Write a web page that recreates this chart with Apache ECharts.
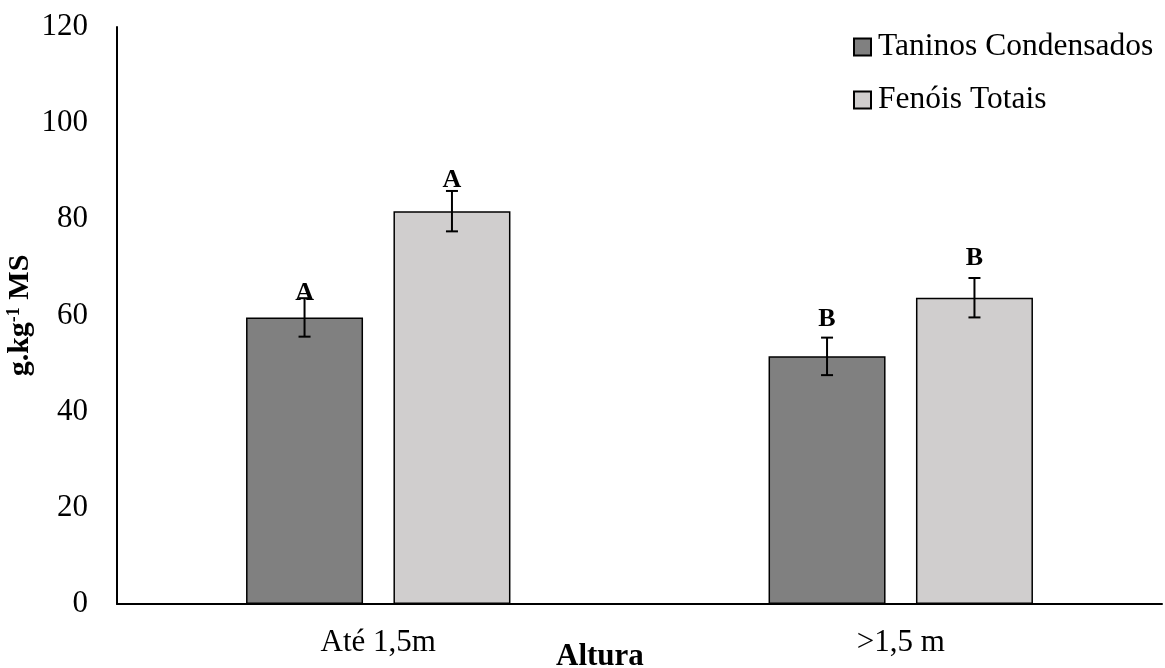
<!DOCTYPE html>
<html>
<head>
<meta charset="utf-8">
<script src="https://cdn.jsdelivr.net/npm/echarts@6/dist/echarts.min.js"></script>
<style>
html,body{margin:0;padding:0;background:#fff;}
#chart{width:1165px;height:668px;}
</style>
</head>
<body>
<div id="chart"></div>
<script>
var categories = ['Até 1,5m', '>1,5 m'];
var seriesNames = ['Taninos Condensados', 'Fenóis Totais'];
var taninos = [59.6, 51.5];
var fenois = [81.7, 63.7];
var taninosErr = [4.0, 3.9];
var fenoisErr = [4.2, 4.1];
var taninosLetters = ['A', 'B'];
var fenoisLetters = ['A', 'B'];
var taninosLetterY = [64.6, 59.2];
var fenoisLetterY = [88.1, 71.9];
var yTicks = [0, 20, 40, 60, 80, 100, 120];

var FONT = "'Liberation Serif', 'Times New Roman', serif";
var BAR_W = 117;
var BAR_GAP = 0.26;

function errSeries(name, values, errs, letters, letterY, idx) {
  var data = values.map(function (v, i) { return [i, v, errs[i], letters[i], letterY[i]]; });
  return {
    type: 'custom',
    name: name + ' err',
    z: 10,
    silent: true,
    data: data,
    renderItem: function (params, api) {
      var cat = api.value(0), v = api.value(1), e = api.value(2);
      var center = api.coord([cat, v]);
      var step = BAR_W * (1 + BAR_GAP) / 2;
      var x = center[0] + (idx === 0 ? -step : step);
      var top = api.coord([cat, v + e])[1];
      var bot = api.coord([cat, v - e])[1];
      var ly = api.coord([cat, api.value(4)])[1];
      var cap = 6;
      var st = { stroke: '#000', lineWidth: 2 };
      return {
        type: 'group',
        children: [
          { type: 'line', shape: { x1: x, y1: top, x2: x, y2: bot }, style: st },
          { type: 'line', shape: { x1: x - cap, y1: top, x2: x + cap, y2: top }, style: st },
          { type: 'line', shape: { x1: x - cap, y1: bot, x2: x + cap, y2: bot }, style: st },
          { type: 'text', x: x, y: ly, style: { text: letters[params.dataIndex], fill: '#000',
            font: 'bold 26px ' + FONT, align: 'center', verticalAlign: 'middle' } }
        ]
      };
    }
  };
}

var chart = echarts.init(document.getElementById('chart'), null, { renderer: 'canvas' });
chart.setOption({
  backgroundColor: '#fff',
  animation: false,
  textStyle: { fontFamily: FONT },
  grid: { left: 117, right: 3, top: 27, bottom: 64, containLabel: false, outerBoundsMode: 'none' },
  legend: {
    orient: 'vertical',
    left: 853,
    top: 31,
    padding: 0,
    itemWidth: 17,
    itemHeight: 17,
    itemGap: 21,
    data: seriesNames,
    textStyle: { fontFamily: FONT, fontSize: 31.5, color: '#000', lineHeight: 32, padding: [0, 0, 0, 2] },
    icon: 'rect'
  },
  xAxis: {
    type: 'category',
    data: categories,
    axisLine: { lineStyle: { color: '#000', width: 2 } },
    axisTick: { show: false },
    axisLabel: { color: '#000', fontSize: 31, fontFamily: FONT, margin: 23 },
    splitLine: { show: false }
  },
  yAxis: {
    type: 'value',
    min: 0, max: 120, interval: 20,
    name: 'g.kg{sup|-1} MS',
    nameLocation: 'middle',
    nameGap: 82,
    nameMoveOverlap: false,
    nameTextStyle: {
      color: '#000', fontFamily: FONT, fontSize: 30, fontWeight: 'bold',
      rich: { sup: { fontSize: 18, fontWeight: 'bold', fontFamily: FONT, verticalAlign: 'top', padding: [0, 0, 12, 0], color: '#000' } }
    },
    axisLine: { show: true, lineStyle: { color: '#000', width: 2 } },
    axisTick: { show: false },
    axisLabel: { color: '#000', fontSize: 31, fontFamily: FONT, margin: 29,
      formatter: function (v) { return yTicks.indexOf(v) >= 0 ? String(v) : ''; } },
    splitLine: { show: false }
  },
  graphic: [{
    type: 'text', left: 556, top: 641,
    style: { text: 'Altura', font: 'bold 31px ' + FONT, fill: '#000' }
  }],
  series: [
    { type: 'bar', name: seriesNames[0], data: taninos, barWidth: BAR_W, barGap: (BAR_GAP * 100) + '%',
      itemStyle: { color: '#808080', borderColor: '#000', borderWidth: 1.5 } },
    { type: 'bar', name: seriesNames[1], data: fenois, barWidth: BAR_W, barGap: (BAR_GAP * 100) + '%',
      itemStyle: { color: '#d0cece', borderColor: '#000', borderWidth: 1.5 } },
    errSeries(seriesNames[0], taninos, taninosErr, taninosLetters, taninosLetterY, 0),
    errSeries(seriesNames[1], fenois, fenoisErr, fenoisLetters, fenoisLetterY, 1)
  ]
});
</script>
</body>
</html>
